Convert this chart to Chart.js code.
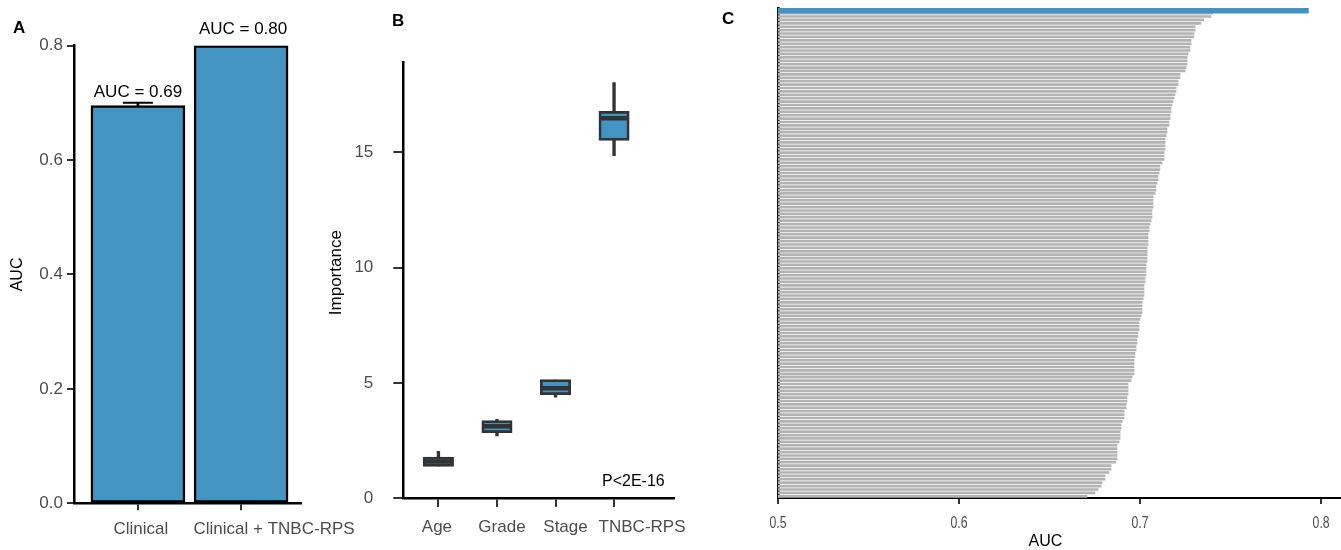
<!DOCTYPE html>
<html>
<head>
<meta charset="utf-8">
<script src="https://cdn.jsdelivr.net/npm/chart.js@4.4.1/dist/chart.umd.min.js"></script>
<style>
  body { margin: 0; background: #fff; }
  #wrap { position: relative; width: 1341px; height: 550px; background: #fff; overflow: hidden; }
  #wrap canvas { position: absolute; top: 0; }
  .tag { position: absolute; font: bold 17px 'Liberation Sans', Arial, Helvetica, sans-serif; line-height: 17px; color: #000; }
</style>
</head>
<body>
<div id="wrap">
  <canvas id="cA" width="365" height="550" style="left:0"></canvas>
  <canvas id="cB" width="380" height="550" style="left:320px"></canvas>
  <canvas id="cC" width="591" height="550" style="left:750px"></canvas>
  <div class="tag" style="left:13px; top:19px">A</div>
  <div class="tag" style="left:392px; top:12px">B</div>
  <div class="tag" style="left:722px; top:10px">C</div>
</div>
<script>
// ---------- data ----------
// A: AUC of the two models
const modelLabels = ['Clinical', 'Clinical + TNBC-RPS'];
const modelAuc = [0.695, 0.800];
const aucLow = [0.689, null];
const aucHigh = [0.700, null];
const aucText = ['AUC = 0.69', 'AUC = 0.80'];

// B: feature importance boxplots
const features = ['Age', 'Grade', 'Stage', 'TNBC-RPS'];
const impMin = [1.40, 2.70, 4.38, 14.85];
const impQ1 = [1.42, 2.88, 4.53, 15.56];
const impMed = [1.59, 3.12, 4.77, 16.48];
const impQ3 = [1.74, 3.32, 5.10, 16.73];
const impMax = [2.03, 3.42, 5.12, 18.03];
const pText = 'P<2E-16';
const pTextAt = [3.33, 0.72];

// C: TNBC-RPS vs random signatures (sorted)
const rpsAuc = 0.793;
const randomAuc = [
  0.7400, 0.7391, 0.7352, 0.7336, 0.7304, 0.7304, 0.7298, 0.7298, 0.7282, 0.7282, 0.7276, 0.7276,
  0.7265, 0.7260, 0.7260, 0.7260, 0.7254, 0.7249, 0.7221, 0.7221, 0.7210, 0.7210, 0.7199, 0.7199,
  0.7193, 0.7188, 0.7182, 0.7177, 0.7171, 0.7171, 0.7166, 0.7166, 0.7160, 0.7160, 0.7149,
  0.7149, 0.7144, 0.7138, 0.7138, 0.7138, 0.7138, 0.7133, 0.7133, 0.7133, 0.7122, 0.7110, 0.7110,
  0.7105, 0.7099, 0.7099, 0.7094, 0.7088, 0.7088, 0.7083, 0.7072, 0.7072, 0.7072, 0.7072, 0.7066,
  0.7066, 0.7066, 0.7061, 0.7055, 0.7050, 0.7050, 0.7044, 0.7044, 0.7044, 0.7044, 0.7039, 0.7039, 0.7039,
  0.7039, 0.7039, 0.7033, 0.7033, 0.7033, 0.7033, 0.7028, 0.7028, 0.7022, 0.7022, 0.7022, 0.7022,
  0.7017, 0.7011, 0.7011, 0.7011, 0.7011, 0.7006, 0.7000, 0.6994, 0.6994, 0.6994, 0.6989, 0.6989,
  0.6983, 0.6983, 0.6978, 0.6978, 0.6972, 0.6972, 0.6967, 0.6967, 0.6967, 0.6967, 0.6967, 0.6956,
  0.6950, 0.6934, 0.6934, 0.6934, 0.6934, 0.6928, 0.6928, 0.6923, 0.6923, 0.6912, 0.6912, 0.6912,
  0.6901, 0.6895, 0.6895, 0.6890, 0.6890, 0.6890, 0.6884, 0.6873, 0.6873, 0.6873, 0.6873, 0.6873,
  0.6867, 0.6840, 0.6840, 0.6829, 0.6807, 0.6807, 0.6790, 0.6785, 0.6768, 0.6751, 0.6707
];
const sigLabels = ['TNBC-RPS'].concat(randomAuc.map((_, i) => 'Random ' + (i + 1)));
const aucTicks = [0.5, 0.6, 0.7, 0.8];

// ---------- look ----------
const FONT = "'Liberation Sans', Arial, Helvetica, sans-serif";
const BLUE = '#4393c3';
const DARK = '#333333';
const GREY_T = '#4d4d4d';

Chart.defaults.font.family = FONT;
Chart.defaults.animation = false;
Chart.defaults.events = [];
Chart.defaults.plugins.legend.display = false;
Chart.defaults.plugins.tooltip.enabled = false;

const fixW = w => s => { s.width = w; };
const fixH = h => s => { s.height = h; };
const tickGrid = len => ({ display: true, offset: false, drawOnChartArea: false, drawTicks: true, tickLength: len, color: DARK, lineWidth: 2 });

// category labels sit a bit right of their ticks in the figure
function drawCatLabels(ctx, x, y, labels, shift, dy) {
  ctx.save();
  ctx.textAlign = 'center'; ctx.textBaseline = 'middle';
  ctx.font = `17px ${FONT}`;
  ctx.fillStyle = GREY_T;
  labels.forEach((t, i) => ctx.fillText(t, x.getPixelForValue(i) + shift[i], y.bottom + dy));
  ctx.restore();
}

// ==========================================
// A. bar chart with error bar
// ==========================================
const aNotes = {
  id: 'aNotes',
  afterDraw(chart) {
    const { ctx, scales: { x, y } } = chart;
    const textLift = [11, 16.5];
    drawCatLabels(ctx, x, y, modelLabels, [3, 33], 26);
    ctx.save();
    ctx.textAlign = 'center'; ctx.textBaseline = 'middle';
    ctx.font = `17px ${FONT}`;
    ctx.fillStyle = '#000';
    aucText.forEach((t, i) => {
      const top = aucHigh[i] != null ? aucHigh[i] : modelAuc[i];
      ctx.fillText(t, x.getPixelForValue(i) + (i ? 2 : 0), y.getPixelForValue(top) - textLift[i]);
    });
    ctx.restore();
  }
};

const errIdx = modelAuc.map((_, i) => i).filter(i => aucLow[i] != null);

new Chart(document.getElementById('cA'), {
  type: 'bar',
  data: {
    datasets: [
      { label: 'AUC', data: modelAuc.map((v, i) => ({ x: i, y: v })), backgroundColor: BLUE, borderColor: '#000',
        borderWidth: 2.5, borderSkipped: false, barThickness: 94, grouped: false, order: 1 },
      { label: 'CI', data: errIdx.map(i => ({ x: i, y: [aucLow[i], aucHigh[i]] })), backgroundColor: '#000',
        barThickness: 2, grouped: false, order: 3 },
      { type: 'line', label: 'caps', data: errIdx.flatMap(i => [{ x: i, y: aucLow[i] }, { x: i, y: aucHigh[i] }]),
        showLine: false, pointStyle: 'line', pointRadius: 15, pointBorderWidth: 2, pointBorderColor: '#000', order: 2 }
    ]
  },
  options: {
    responsive: false,
    layout: { padding: { left: 0, top: 45.6, right: 63.7, bottom: 0 } },
    scales: {
      x: { type: 'linear', offset: false, min: -0.62, max: 1.584, afterFit: fixH(46.7),
        afterBuildTicks: s => { s.ticks = modelLabels.map((_, i) => ({ value: i })); },
        ticks: { display: false }, grid: tickGrid(7), border: { display: true, color: '#000', width: 2.5 } },
      y: { min: 0, max: 0.8, afterFit: fixW(74),
        ticks: { stepSize: 0.2, padding: 4, color: GREY_T, font: { size: 17 }, callback: v => v.toFixed(1) },
        grid: tickGrid(7), border: { display: true, color: '#000', width: 2.5 },
        title: { display: true, text: 'AUC', color: '#000', font: { size: 16 }, padding: { top: 7.7, bottom: 0 } } }
    }
  },
  plugins: [aNotes]
});

// ==========================================
// B. importance boxplots
// ==========================================
const bNotes = {
  id: 'bNotes',
  afterDraw(chart) {
    const { ctx, chartArea: ca, scales: { x, y } } = chart;
    drawCatLabels(ctx, x, y, features, [-1.5, 5, 10, 28], 29);
    ctx.save();
    ctx.fillStyle = '#000';
    ctx.textAlign = 'center'; ctx.textBaseline = 'middle';
    ctx.font = `16px ${FONT}`;
    ctx.fillText(pText, x.getPixelForValue(pTextAt[0]), y.getPixelForValue(pTextAt[1]));
    ctx.translate(ca.left - 66.6, (ca.top + ca.bottom) / 2 - 7.6);
    ctx.rotate(-Math.PI / 2);
    ctx.font = `17px ${FONT}`;
    ctx.fillText('Importance', 0, 0);
    ctx.restore();
  }
};

new Chart(document.getElementById('cB'), {
  type: 'bar',
  data: {
    datasets: [
      { label: 'whisker', data: features.map((_, i) => ({ x: i, y: [impMin[i], impMax[i]] })), backgroundColor: DARK,
        barThickness: 2.7, grouped: false, order: 3 },
      { label: 'box', data: features.map((_, i) => ({ x: i, y: [impQ1[i], impQ3[i]] })), backgroundColor: BLUE,
        borderColor: DARK, borderWidth: 2.7, borderSkipped: false, barThickness: 28.3, inflateAmount: 1.35, grouped: false, order: 2 },
      { type: 'line', label: 'median', data: features.map((_, i) => ({ x: i, y: impMed[i] })), showLine: false,
        pointStyle: 'line', pointRadius: 14.8, pointBorderWidth: 4.5, pointBorderColor: DARK, order: 1 }
    ]
  },
  options: {
    responsive: false,
    layout: { padding: { left: 0, top: 62.4, right: 26, bottom: 0 } },
    scales: {
      x: { type: 'linear', offset: false, min: -0.6, max: 4.024, afterFit: fixH(51.9),
        afterBuildTicks: s => { s.ticks = features.map((_, i) => ({ value: i })); },
        ticks: { display: false }, grid: tickGrid(9), border: { display: true, color: '#000', width: 2.5 } },
      y: { min: 0, max: 18.9, afterFit: fixW(83.3),
        ticks: { stepSize: 5, includeBounds: false, padding: 20, color: GREY_T, font: { size: 17 } },
        grid: tickGrid(10), border: { display: true, color: '#000', width: 2.5 } }
    }
  },
  plugins: [bNotes]
});

// ==========================================
// C. ranked AUC bars
// ==========================================
// tick labels of C are condensed in the figure: drawn squeezed under the library's tick positions
const cTicks = {
  id: 'cTicks',
  afterDraw(chart) {
    const { ctx, scales: { x } } = chart;
    ctx.save();
    ctx.fillStyle = GREY_T;
    ctx.textAlign = 'center'; ctx.textBaseline = 'middle';
    ctx.font = `17px ${FONT}`;
    x.ticks.forEach(t => {
      ctx.save();
      ctx.translate(x.getPixelForValue(t.value), x.top + 25);
      ctx.scale(0.72, 1);
      ctx.fillText(t.value.toFixed(1), 0, 0);
      ctx.restore();
    });
    ctx.restore();
  }
};

new Chart(document.getElementById('cC'), {
  type: 'bar',
  data: {
    labels: sigLabels,
    datasets: [
      { label: 'TNBC-RPS', data: [rpsAuc].concat(randomAuc.map(() => null)), backgroundColor: BLUE, barThickness: 7, grouped: false },
      { label: 'Random', data: [null].concat(randomAuc), backgroundColor: '#b3b3b3', barThickness: 2, grouped: false }
    ]
  },
  options: {
    responsive: false,
    indexAxis: 'y',
    layout: { padding: { left: 0, top: 8, right: 0, bottom: 0 } },
    plugins: {
      title: { display: true, position: 'bottom', text: 'AUC', color: '#000', font: { size: 16, weight: 'normal', lineHeight: 1 }, padding: 0 }
    },
    scales: {
      x: { min: 0.5, max: 0.811, afterFit: fixH(36),
        afterBuildTicks: s => { s.ticks = aucTicks.map(v => ({ value: v })); },
        ticks: { display: false }, grid: tickGrid(6), border: { display: true, color: '#000', width: 2 } },
      y: { afterFit: fixW(28), ticks: { display: false },
        grid: { display: true, drawOnChartArea: false, drawTicks: false },
        border: { display: true, color: '#111', width: 2.7 } }
    }
  },
  plugins: [cTicks]
});
</script>
</body>
</html>
